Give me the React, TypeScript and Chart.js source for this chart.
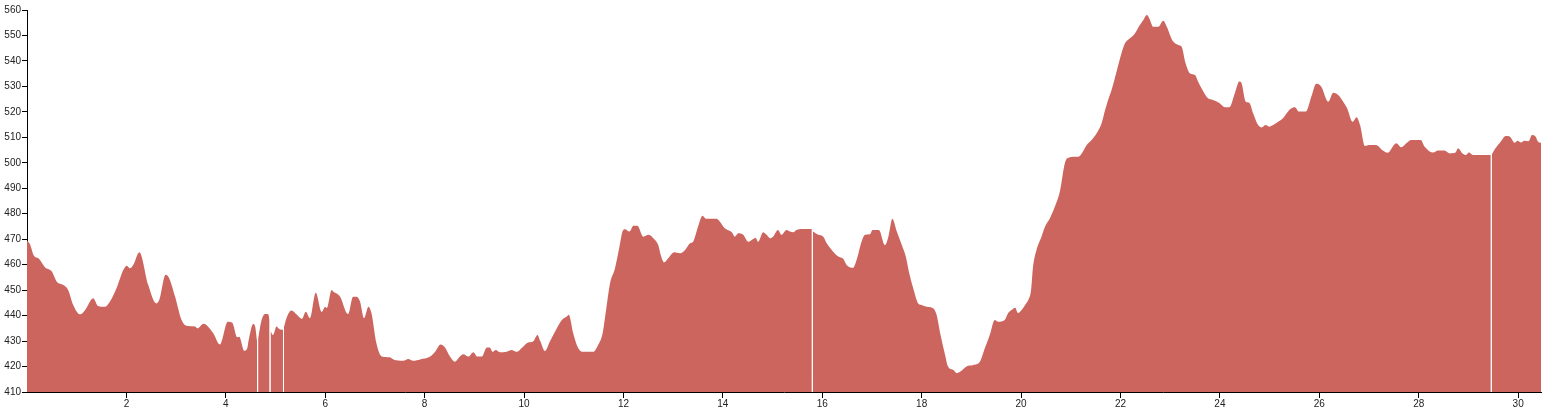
import { useEffect, useRef } from "react";
import { Chart, registerables } from "chart.js";

Chart.register(...registerables);

// Distance along the route (km) and elevation (m). null = gap in the track.
const distanceKm: number[] = [
  0.0, 0.06, 0.14, 0.23, 0.36, 0.5, 0.6, 0.73, 0.83, 0.93, 1.07, 1.17, 1.33, 1.43, 1.57, 1.67, 1.8, 1.94, 2.01, 2.07,
  2.14, 2.26, 2.44, 2.6, 2.66, 2.79, 2.86, 2.98, 3.11, 3.21, 3.38, 3.43, 3.55, 3.61, 3.75, 3.88, 4.04, 4.13, 4.23, 4.27,
  4.37, 4.43, 4.46, 4.55, 4.59, 4.63, 4.64, 4.65, 4.72, 4.79, 4.85, 4.88, 4.89, 4.9, 4.95, 5.02, 5.07, 5.12, 5.15, 5.16,
  5.17, 5.22, 5.32, 5.43, 5.53, 5.61, 5.69, 5.81, 5.93, 6.0, 6.03, 6.13, 6.16, 6.3, 6.43, 6.46, 6.56, 6.63, 6.7, 6.78,
  6.87, 6.93, 7.03, 7.14, 7.3, 7.37, 7.57, 7.67, 7.77, 7.91, 8.11, 8.21, 8.32, 8.41, 8.51, 8.61, 8.71, 8.78, 8.88, 8.98,
  9.06, 9.15, 9.25, 9.31, 9.37, 9.43, 9.52, 9.65, 9.75, 9.85, 9.98, 10.08, 10.18, 10.27, 10.33, 10.42, 10.52, 10.66, 10.76, 10.86,
  10.9, 10.99, 11.09, 11.19, 11.39, 11.49, 11.58, 11.65, 11.73, 11.83, 11.92, 11.98, 12.03, 12.12, 12.2, 12.28, 12.4, 12.5, 12.6, 12.7,
  12.75, 12.82, 12.9, 13.02, 13.14, 13.24, 13.34, 13.4, 13.5, 13.59, 13.66, 13.87, 13.94, 14.04, 14.18, 14.24, 14.31, 14.41, 14.51, 14.61,
  14.66, 14.71, 14.81, 14.88, 14.95, 15.01, 15.11, 15.18, 15.28, 15.35, 15.42, 15.48, 15.6, 15.79, 15.8, 15.81, 15.92, 16.02, 16.09, 16.22,
  16.32, 16.42, 16.49, 16.62, 16.69, 16.79, 16.86, 16.96, 17.01, 17.14, 17.26, 17.33, 17.41, 17.5, 17.6, 17.68, 17.75, 17.83, 17.93, 18.0,
  18.1, 18.23, 18.3, 18.38, 18.47, 18.53, 18.63, 18.71, 18.8, 18.9, 19.04, 19.17, 19.27, 19.37, 19.47, 19.54, 19.67, 19.74, 19.81, 19.88,
  19.94, 20.01, 20.08, 20.16, 20.2, 20.24, 20.31, 20.41, 20.48, 20.58, 20.68, 20.78, 20.88, 20.93, 21.08, 21.15, 21.22, 21.32, 21.42, 21.52,
  21.62, 21.69, 21.75, 21.82, 21.92, 22.02, 22.09, 22.19, 22.29, 22.39, 22.46, 22.53, 22.58, 22.66, 22.76, 22.86, 22.93, 23.01, 23.06, 23.16,
  23.23, 23.31, 23.4, 23.5, 23.56, 23.65, 23.76, 23.86, 23.99, 24.1, 24.19, 24.3, 24.39, 24.43, 24.52, 24.59, 24.67, 24.77, 24.84, 24.92,
  24.99, 25.07, 25.17, 25.27, 25.41, 25.51, 25.59, 25.73, 25.84, 25.94, 26.04, 26.18, 26.28, 26.38, 26.48, 26.56, 26.67, 26.75, 26.82, 26.92,
  27.0, 27.14, 27.28, 27.37, 27.55, 27.65, 27.75, 27.85, 28.04, 28.12, 28.29, 28.39, 28.52, 28.62, 28.74, 28.79, 28.88, 28.95, 29.01, 29.09,
  29.45, 29.46, 29.47, 29.53, 29.65, 29.75, 29.83, 29.93, 29.99, 30.06, 30.12, 30.21, 30.28, 30.35, 30.4, 30.46,
];

const elevationM: (number | null)[] = [
  469.5, 468.0, 463.5, 462.5, 459.0, 457.3, 453.3, 452.0, 450.0, 444.2, 440.5, 442.2, 446.8, 443.8, 443.5, 445.5, 450.7, 458.0, 459.6, 458.6,
  460.0, 464.9, 452.0, 444.8, 446.1, 456.0, 454.7, 447.4, 438.3, 436.0, 435.7, 435.0, 436.8, 436.3, 433.0, 428.7, 437.6, 437.2, 431.5, 431.7,
  426.2, 427.1, 430.4, 436.7, 435.7, 429.8, null, 431.0, 438.3, 440.6, 440.6, 438.5, null, 434.0, 432.4, 435.7, 434.8, 434.4, 434.5, null,
  435.5, 439.0, 442.0, 440.3, 438.7, 441.5, 439.0, 449.0, 441.5, 443.5, 443.0, 450.1, 449.5, 447.4, 441.0, 440.6, 447.4, 447.4, 445.5, 439.0,
  443.5, 441.0, 429.1, 423.9, 423.6, 422.8, 422.3, 423.0, 422.3, 422.8, 423.9, 425.8, 428.7, 427.5, 423.9, 421.9, 423.9, 424.8, 423.9, 425.6,
  423.9, 423.9, 427.5, 427.5, 425.8, 426.5, 425.6, 425.8, 426.5, 425.8, 427.8, 429.4, 429.8, 432.4, 429.8, 426.1, 429.8, 435.0, 438.3, 439.6,
  440.3, 433.0, 427.2, 425.8, 425.8, 428.5, 433.0, 442.2, 452.7, 458.6, 467.1, 473.0, 473.9, 473.0, 475.3, 475.3, 471.0, 471.7, 470.4, 467.7,
  463.8, 460.9, 462.5, 464.9, 464.5, 465.8, 468.4, 469.0, 474.9, 479.2, 478.0, 478.0, 476.9, 474.3, 472.7, 471.0, 472.3, 471.7, 469.0, 470.1,
  470.6, 469.0, 472.7, 471.7, 470.4, 471.0, 473.6, 471.7, 473.6, 473.0, 472.7, 473.6, 474.0, 474.0, null, 473.0, 471.7, 471.0, 468.4, 465.1,
  463.2, 462.3, 459.9, 458.8, 461.8, 469.0, 471.7, 471.9, 473.6, 473.6, 467.7, 471.0, 478.0, 473.0, 467.7, 463.2, 456.6, 450.7, 444.8, 444.2,
  443.5, 442.9, 440.3, 432.4, 424.6, 420.0, 418.7, 417.4, 418.3, 420.0, 420.6, 421.9, 427.2, 432.4, 438.3, 437.6, 438.3, 441.0, 442.2, 443.1,
  441.0, 442.2, 444.2, 446.8, 450.0, 459.2, 465.8, 471.0, 474.9, 478.2, 482.8, 488.7, 499.8, 501.8, 502.4, 502.4, 503.7, 507.0, 509.0, 511.6,
  515.5, 520.7, 524.7, 528.6, 535.8, 543.0, 546.9, 548.9, 550.8, 554.1, 556.1, 558.0, 556.7, 553.4, 553.4, 555.8, 553.5, 549.5, 547.6, 546.3,
  545.6, 539.1, 535.1, 534.5, 531.9, 528.6, 525.3, 524.7, 523.5, 521.8, 521.8, 527.3, 531.9, 531.5, 524.0, 523.6, 519.4, 514.8, 513.9, 514.8,
  514.2, 514.8, 516.1, 517.5, 521.0, 521.8, 520.1, 520.1, 526.0, 531.0, 529.9, 524.0, 527.5, 526.6, 524.0, 521.4, 516.1, 517.9, 514.8, 506.6,
  507.0, 507.0, 504.8, 503.9, 507.7, 506.1, 507.7, 509.0, 509.0, 506.3, 504.0, 504.8, 504.8, 503.7, 504.0, 505.7, 503.7, 503.1, 504.0, 503.1,
  503.1, null, 503.3, 505.3, 508.3, 510.5, 510.3, 507.9, 508.7, 508.0, 508.7, 508.5, 510.9, 510.3, 508.3, 507.9,
];

const xTickValues = [2, 4, 6, 8, 10, 12, 14, 16, 18, 20, 22, 24, 26, 28, 30];
const yTickValues = [410, 420, 430, 440, 450, 460, 470, 480, 490, 500, 510, 520, 530, 540, 550, 560];

const X_MAX = 30.46;
const FILL = "rgb(205, 101, 95)";
const FONT = { family: "'Liberation Sans', Arial, sans-serif", size: 10 };

export default function App() {
  const ref = useRef<HTMLCanvasElement | null>(null);

  useEffect(() => {
    document.body.style.margin = "0";
    const canvas = ref.current;
    if (!canvas) return;
    const points = distanceKm.map((x, i) => ({ x, y: elevationM[i] }));
    const chart = new Chart(canvas, {
      type: "line",
      data: {
        datasets: [
          {
            data: points as any,
            fill: "start",
            backgroundColor: FILL,
            borderColor: "rgba(0,0,0,0)",
            borderWidth: 0,
            pointRadius: 0,
            pointHoverRadius: 0,
            cubicInterpolationMode: "monotone",
            spanGaps: false,
          },
        ],
      },
      options: {
        animation: false,
        responsive: false,
        devicePixelRatio: 1,
        events: [],
        layout: { padding: { top: 10, right: 2, left: 0, bottom: 0 } },
        plugins: { legend: { display: false }, tooltip: { enabled: false } },
        scales: {
          x: {
            type: "linear",
            min: 0,
            max: X_MAX,
            afterBuildTicks: (s: any) => {
              s.ticks = xTickValues.map((v) => ({ value: v }));
            },
            afterFit: (s: any) => {
              s.height = 17;
            },
            grid: { display: true, drawOnChartArea: false, drawTicks: true, tickLength: 6, color: "#000" },
            border: { display: true, color: "#000", width: 1 },
            ticks: { padding: 0, font: FONT, color: "#222", maxRotation: 0, autoSkip: false },
          },
          y: {
            type: "linear",
            min: 410,
            max: 560,
            afterBuildTicks: (s: any) => {
              s.ticks = yTickValues.map((v) => ({ value: v }));
            },
            afterFit: (s: any) => {
              s.width = 27;
            },
            grid: { display: true, drawOnChartArea: false, drawTicks: true, tickLength: 5, color: "#000" },
            border: { display: true, color: "#000", width: 1 },
            ticks: { padding: 1, font: FONT, color: "#222", autoSkip: false },
          },
        },
      },
    });
    return () => chart.destroy();
  }, []);

  return <canvas ref={ref} width={1543} height={409} style={{ display: "block" }} />;
}
